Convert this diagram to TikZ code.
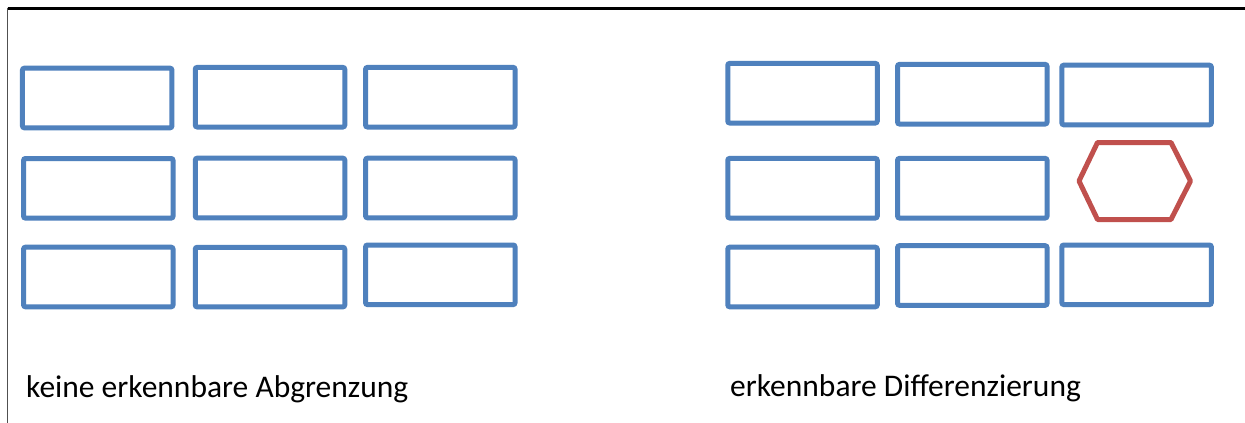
\documentclass[tikz,border=0pt]{standalone}
\usepackage{fontspec}
\setmainfont{Carlito}
\definecolor{boxblue}{HTML}{4F81BD}
\definecolor{hexred}{HTML}{C0504D}
\definecolor{frameleft}{HTML}{505050}
\begin{document}
\begin{tikzpicture}[x=1pt,y=-1pt,
  box/.style={draw=boxblue, line width=5pt, rounded corners=2pt, rectangle, inner sep=0pt,
    minimum width=149.5pt, minimum height=59.6pt},
  hexline/.style={draw=hexred, line width=5pt, line join=round},
  caption/.style={anchor=base west, inner sep=0pt, font=\fontsize{31.5}{36}\selectfont}]
\useasboundingbox (0,0) rectangle (1245,423);
\fill[white] (0,0) rectangle (1245,423);
% frame
\coordinate (tl) at (7.7,8.7);
\coordinate (tr) at (1250,8.7);
\coordinate (bl) at (7.7,423);
\draw[black, line width=2.5pt] (tl) -- (tr);
\draw[frameleft, line width=1.3pt] (7.7,7.5) -- (bl);
% left group
\node[box] (l11) at (97.2,98) {};
\node[box] (l12) at (270,97.2) {};
\node[box] (l13) at (440.3,97.2) {};
\node[box] (l21) at (98.3,188.3) {};
\node[box] (l22) at (270,188) {};
\node[box] (l23) at (440.3,188) {};
\node[box] (l31) at (98.3,277) {};
\node[box] (l32) at (270,277.1) {};
\node[box] (l33) at (440.3,274.8) {};
% right group
\node[box] (r11) at (802.5,93.2) {};
\node[box] (r12) at (972.3,94.2) {};
\node[box] (r13) at (1136.6,95) {};
\node[box] (r21) at (802.5,188.2) {};
\node[box] (r22) at (972.3,188.2) {};
\node[box] (r31) at (802.5,277) {};
\node[box] (r32) at (972.3,275.5) {};
\node[box] (r33) at (1136.6,274.8) {};
% hexagon
\coordinate (h1) at (1079,181);
\coordinate (h2) at (1097.5,142.5);
\coordinate (h3) at (1171,142.5);
\coordinate (h4) at (1190.5,181);
\coordinate (h5) at (1171,219.5);
\coordinate (h6) at (1097.5,219.5);
\draw[hexline] (h1) -- (h2) -- (h3) -- (h4) -- (h5) -- (h6) -- cycle;
% captions
\node[caption] (capl) at (26,397) {keine erkennbare Abgrenzung};
\node[caption] (capr) at (730,396) {erkennbare Differenzierung};
\end{tikzpicture}
\end{document}
